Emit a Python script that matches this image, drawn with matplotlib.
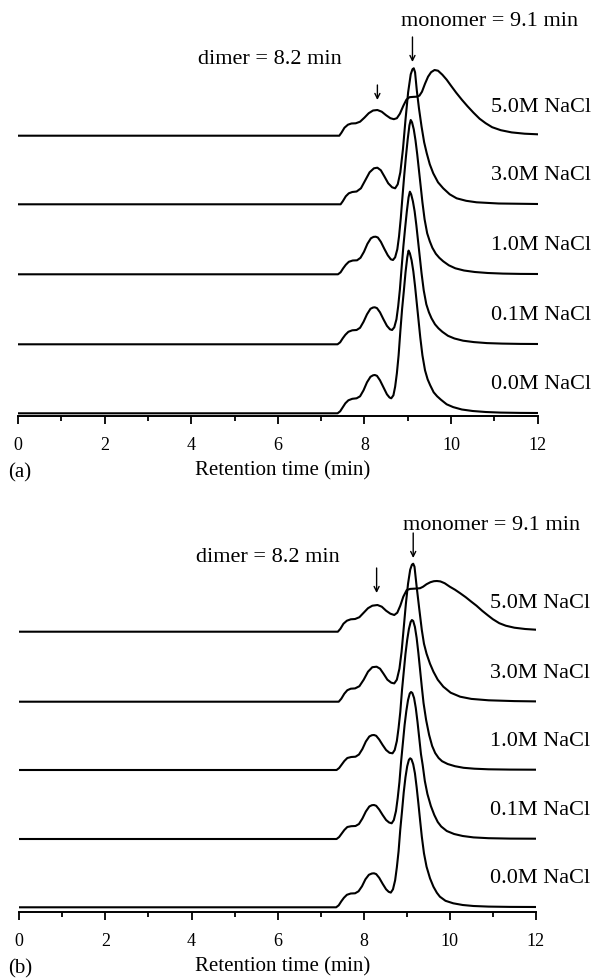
import matplotlib
matplotlib.use("Agg")
import matplotlib.pyplot as plt
from matplotlib.ticker import MultipleLocator

plt.rcParams['font.family'] = ['Liberation Serif', 'DejaVu Serif']

# ---------------- data (retention time in min, detector signal in arbitrary units) -------------
SALTS = ["0.0M NaCl", "0.1M NaCl", "1.0M NaCl", "3.0M NaCl", "5.0M NaCl"]
XTICKS = [0, 2, 4, 6, 8, 10, 12]
DIMER_TEXT = "dimer = 8.2 min"
MONOMER_TEXT = "monomer = 9.1 min"
XLABEL = "Retention time (min)"

# ----- panel (a) -----
T_A00 = [0, 7.38, 7.44, 7.50, 7.56, 7.63, 7.72, 7.82, 7.90, 7.98, 8.06, 8.14, 8.20, 8.24, 8.29, 8.36, 8.44, 8.52,
         8.58, 8.62, 8.67, 8.71, 8.75, 8.79, 8.83, 8.87, 8.91, 8.95, 8.99, 9.02, 9.05, 9.09, 9.13, 9.17, 9.21, 9.25,
         9.29, 9.34, 9.40, 9.46, 9.52, 9.60, 9.68, 9.77, 9.90, 10.05, 10.25, 10.50, 10.80, 11.15, 11.6, 12.0]
H_A00 = [0, 0, 2, 6, 10, 13, 14.5, 15, 17, 23, 31, 36.5, 38, 38.3, 37.5, 33, 26, 19,
         15.8, 15, 18, 26.6, 40, 58, 82, 104, 122, 141, 156, 162.7, 160, 153, 142, 127, 110, 93,
         76, 58, 43, 34, 28, 21, 17, 13.5, 9, 6.2, 3.8, 2.3, 1.3, 0.7, 0.4, 0.3]

T_A01 = [0, 7.38, 7.44, 7.50, 7.56, 7.63, 7.72, 7.82, 7.90, 7.98, 8.06, 8.14, 8.20, 8.24, 8.29, 8.36, 8.44, 8.52,
         8.59, 8.64, 8.69, 8.74, 8.78, 8.82, 8.86, 8.90, 8.94, 8.98, 9.02, 9.05, 9.08, 9.12, 9.16, 9.20, 9.24, 9.28,
         9.32, 9.37, 9.43, 9.49, 9.55, 9.63, 9.71, 9.80, 9.93, 10.08, 10.28, 10.53, 10.83, 11.18, 11.6, 12.0]
H_A01 = [0, 0, 2, 6, 9.5, 12.5, 14, 14.3, 16.5, 22.5, 30, 35.5, 36.8, 37, 36.2, 32, 25, 18.5,
         15, 14.3, 17, 25, 38, 55, 77, 98, 116, 133, 147, 152.6, 150, 143, 133, 119, 103, 87,
         71, 54, 40, 32, 26, 20, 16, 12.5, 8.5, 5.8, 3.6, 2.2, 1.2, 0.7, 0.4, 0.3]

T_A10 = [0, 7.39, 7.45, 7.51, 7.57, 7.64, 7.73, 7.83, 7.91, 7.99, 8.07, 8.15, 8.21, 8.26, 8.31, 8.38, 8.46, 8.54,
         8.61, 8.66, 8.71, 8.76, 8.80, 8.84, 8.88, 8.92, 8.96, 9.00, 9.04, 9.07, 9.10, 9.14, 9.18, 9.22, 9.26, 9.30,
         9.34, 9.39, 9.45, 9.51, 9.57, 9.65, 9.73, 9.82, 9.95, 10.10, 10.30, 10.55, 10.85, 11.2, 11.6, 12.0]
H_A10 = [0, 0, 2, 6, 9.5, 12.5, 13.8, 14, 16.5, 22.5, 30.5, 36, 37.4, 37.6, 36.8, 32.5, 25.5, 19,
         15, 14.3, 17, 25, 38, 56, 78, 99, 118, 135, 149, 154.3, 152, 145, 134, 120, 104, 88,
         72, 55, 41, 33, 26.5, 20.5, 16.5, 13, 9, 6, 3.8, 2.3, 1.3, 0.7, 0.4, 0.3]

T_A30 = [0, 7.45, 7.50, 7.57, 7.64, 7.72, 7.82, 7.92, 8.02, 8.12, 8.22, 8.30, 8.38, 8.46, 8.55, 8.64, 8.71, 8.77,
         8.83, 8.89, 8.95, 9.01, 9.07, 9.11, 9.14, 9.17, 9.21, 9.26, 9.32, 9.38, 9.44, 9.51, 9.59, 9.70, 9.82, 9.97,
         10.13, 10.35, 10.59, 11.1, 12.0]
H_A30 = [0, 0, 3, 8, 11, 12.3, 12.8, 16, 24, 32, 36, 36.6, 34, 28, 21, 17, 16, 20,
         32, 55, 85, 112, 130, 135, 136, 132, 114, 96, 77.7, 62, 51, 40, 31, 22, 16, 10,
         6, 3.5, 2, 0.8, 0.3]

T_A50 = [0, 7.42, 7.47, 7.54, 7.62, 7.70, 7.80, 7.90, 8.00, 8.10, 8.20, 8.30, 8.40, 8.50, 8.60, 8.68, 8.75, 8.82,
         8.90, 8.97, 9.04, 9.12, 9.20, 9.27, 9.33, 9.40, 9.47, 9.54, 9.62, 9.70, 9.80, 9.90, 10.0, 10.12, 10.25,
         10.38, 10.52, 10.66, 10.80, 10.95, 11.15, 11.4, 11.7, 12.0]
H_A50 = [0, 0, 3, 8, 11, 12.2, 12.4, 14, 18, 22.5, 25.2, 25.7, 24, 20.5, 17.5, 16.5, 17.5, 22,
         30, 36, 38.5, 38.8, 39, 40, 44, 52, 59, 63.5, 65.7, 65, 61, 56, 50, 43, 36,
         29.5, 23, 17, 12.5, 8.5, 5.5, 3.3, 2, 1.4]

# ----- panel (b) -----
T_B00 = [0, 7.36, 7.42, 7.48, 7.54, 7.61, 7.70, 7.80, 7.88, 7.96, 8.04, 8.12, 8.19, 8.24, 8.29, 8.36, 8.44, 8.52,
         8.58, 8.63, 8.68, 8.73, 8.77, 8.81, 8.85, 8.89, 8.93, 8.97, 9.01, 9.05, 9.08, 9.11, 9.15, 9.19, 9.23, 9.27,
         9.31, 9.35, 9.40, 9.46, 9.54, 9.62, 9.70, 9.77, 9.90, 10.08, 10.30, 10.55, 10.9, 11.4, 12.0]
H_B00 = [0, 0, 2, 6, 9.5, 12.5, 13.8, 14, 16, 21, 28, 32.5, 33.8, 34, 33.2, 29.5, 23.5, 18,
         15.5, 14.7, 18, 27, 40, 56, 78, 96, 115, 130, 141, 147.5, 149, 148, 143, 134, 120, 104,
         87, 70.6, 54, 40.6, 29, 20.6, 14.5, 10.6, 6.5, 4, 2.3, 1.3, 0.7, 0.4, 0.3]

T_B01 = [0, 7.37, 7.43, 7.49, 7.55, 7.62, 7.71, 7.81, 7.89, 7.97, 8.05, 8.13, 8.19, 8.24, 8.29, 8.36, 8.44, 8.52,
         8.59, 8.65, 8.70, 8.75, 8.79, 8.83, 8.87, 8.91, 8.95, 8.99, 9.03, 9.07, 9.10, 9.13, 9.17, 9.21, 9.25, 9.29,
         9.33, 9.37, 9.42, 9.48, 9.56, 9.64, 9.72, 9.80, 9.93, 10.10, 10.30, 10.55, 10.9, 11.4, 12.0]
H_B01 = [0, 0, 2, 5.5, 9, 12, 12.8, 13, 15, 20.5, 27.5, 32.5, 33.8, 34, 33.2, 29.5, 24, 19,
         16.5, 15.7, 19, 28, 41, 57, 78, 96, 114, 128, 139, 145.5, 147, 146, 141, 131, 117, 101,
         85, 74, 58, 45, 33, 24, 17, 12.5, 8, 5, 3, 1.6, 0.8, 0.4, 0.3]

T_B10 = [0, 7.37, 7.43, 7.49, 7.55, 7.62, 7.71, 7.81, 7.89, 7.97, 8.05, 8.13, 8.19, 8.24, 8.29, 8.36, 8.44, 8.52,
         8.60, 8.67, 8.72, 8.77, 8.81, 8.85, 8.89, 8.93, 8.97, 9.01, 9.05, 9.09, 9.12, 9.15, 9.19, 9.23, 9.27, 9.31,
         9.35, 9.39, 9.45, 9.52, 9.59, 9.66, 9.74, 9.82, 9.95, 10.12, 10.32, 10.57, 10.9, 11.4, 12.0]
H_B10 = [0, 0, 2, 5.5, 9, 12, 13, 13.3, 15.5, 21, 28.5, 33.5, 34.8, 35, 34.2, 30.5, 25, 20,
         17.2, 16.7, 20, 29, 42, 58, 80, 98, 116, 130, 141, 148, 150, 149, 143, 132, 117, 100,
         83, 67, 50, 35, 24, 17, 12, 8.8, 6, 3.8, 2.2, 1.3, 0.7, 0.4, 0.3]

T_B30 = [0, 7.42, 7.48, 7.55, 7.62, 7.70, 7.80, 7.90, 8.00, 8.10, 8.20, 8.30, 8.38, 8.46, 8.55, 8.64, 8.71, 8.77,
         8.83, 8.88, 8.93, 8.98, 9.03, 9.08, 9.12, 9.15, 9.18, 9.23, 9.29, 9.35, 9.40, 9.46, 9.54, 9.62, 9.72, 9.85,
         10.02, 10.24, 10.5, 10.9, 11.5, 12.0]
H_B30 = [0, 0, 3, 8, 11.5, 13, 13.3, 15.5, 22, 30, 34.5, 35, 33, 28, 22, 19, 18.3, 22,
         33, 50, 74, 98, 118, 132, 137, 138, 135, 115, 93, 71.7, 58, 48, 38, 30, 22, 15,
         9, 5, 2.8, 1.4, 0.6, 0.3]

T_B50 = [0, 7.40, 7.46, 7.53, 7.61, 7.70, 7.80, 7.90, 8.00, 8.10, 8.20, 8.32, 8.42, 8.52, 8.62, 8.71, 8.78, 8.85,
         8.92, 9.00, 9.08, 9.16, 9.24, 9.31, 9.38, 9.46, 9.55, 9.63, 9.70, 9.78, 9.88, 10.0, 10.12, 10.24, 10.37,
         10.50, 10.62, 10.75, 10.88, 11.0, 11.15, 11.3, 11.5, 11.75, 12.0]
H_B50 = [0, 0, 3, 8, 11, 12.4, 12.7, 14.5, 19, 23.5, 26, 26.7, 25, 21, 18, 16.7, 19, 26,
         35, 41.7, 42.8, 43, 43.2, 43.5, 45, 47.5, 49.5, 50.5, 50.7, 50.3, 48.5, 45, 42, 38.5, 34.5,
         30, 26, 21, 16.5, 12.5, 8.5, 6, 4, 2.7, 2]

DIMER_RT = 8.2
MONOMER_RT = 9.1

# ---------------- layout (pixels) ----------------
W, H = 599, 980
fig = plt.figure(figsize=(W / 100, H / 100), dpi=100)

LINE_W = 1.5
FS_TICK = 13
FS_TEXT = 16
FS_LABEL = 15


def panel(x0, x12, spine_y, offsets, curves, tag, arrow_x, ann):
    ax = fig.add_axes([x0 / W, 1 - spine_y / H, (x12 - x0) / W, 400 / H])
    ax.set_xlim(0, 12)
    ax.set_ylim(0, 400)
    for (t, h), off, lab in zip(curves, offsets, SALTS):
        ax.plot(t, [v + off for v in h], color='black', lw=LINE_W, solid_joinstyle='round')
        ax.text(10.93, off + 28.5, lab, fontsize=FS_TEXT, ha='left', va='center')
    for s in ('left', 'right', 'top'):
        ax.spines[s].set_visible(False)
    ax.spines['bottom'].set_linewidth(1.4)
    ax.set_yticks([])
    ax.set_xticks(XTICKS)
    ax.set_xticklabels([str(v) for v in XTICKS])
    ax.xaxis.set_minor_locator(MultipleLocator(1))
    ax.tick_params(axis='x', which='major', direction='out', length=6, width=1.3, pad=9, labelsize=FS_TICK)
    ax.tick_params(axis='x', which='minor', direction='out', length=3.5, width=1.3)
    # arrows and annotation texts
    (dx, dy0, dy1), (mx, my0, my1) = arrow_x
    arrow = dict(arrowstyle='->', lw=1.0, color='black', shrinkA=0, shrinkB=0, mutation_scale=9)
    ax.annotate('', xy=(dx, dy1), xytext=(dx, dy0), arrowprops=arrow, annotation_clip=False)
    ax.annotate('', xy=(mx, my1), xytext=(mx, my0), arrowprops=arrow, annotation_clip=False)
    (tx, ty), (ux, uy) = ann
    ax.text(tx, ty, DIMER_TEXT, fontsize=FS_TEXT, ha='center', va='center')
    ax.text(ux, uy, MONOMER_TEXT, fontsize=FS_TEXT, ha='center', va='center')
    # panel tag and axis label
    fig.text(8 / W, 1 - (spine_y + 57) / H, tag, fontsize=FS_LABEL, ha='left', va='center')
    fig.text(283 / W, 1 - (spine_y + 55) / H, XLABEL, fontsize=FS_LABEL, ha='center', va='center')
    return ax


curves_a = [(T_A00, H_A00), (T_A01, H_A01), (T_A10, H_A10), (T_A30, H_A30), (T_A50, H_A50)]
curves_b = [(T_B00, H_B00), (T_B01, H_B01), (T_B10, H_B10), (T_B30, H_B30), (T_B50, H_B50)]

panel(18, 537.6, 416, [2.7, 71.7, 141.7, 211.7, 280.3], curves_a, "(a)",
      ((DIMER_RT + 0.1, 331, 316), (MONOMER_RT + 0.01, 379, 354)),
      ((5.82, 356), (10.9, 394)))
panel(19.3, 535.9, 912, [4.7, 73, 142, 210.3, 280.3], curves_b, "(b)",
      ((DIMER_RT + 0.1, 344, 319), (MONOMER_RT + 0.05, 379, 354)),
      ((5.78, 354), (10.98, 387)))

fig.savefig("out.png", dpi=100)
